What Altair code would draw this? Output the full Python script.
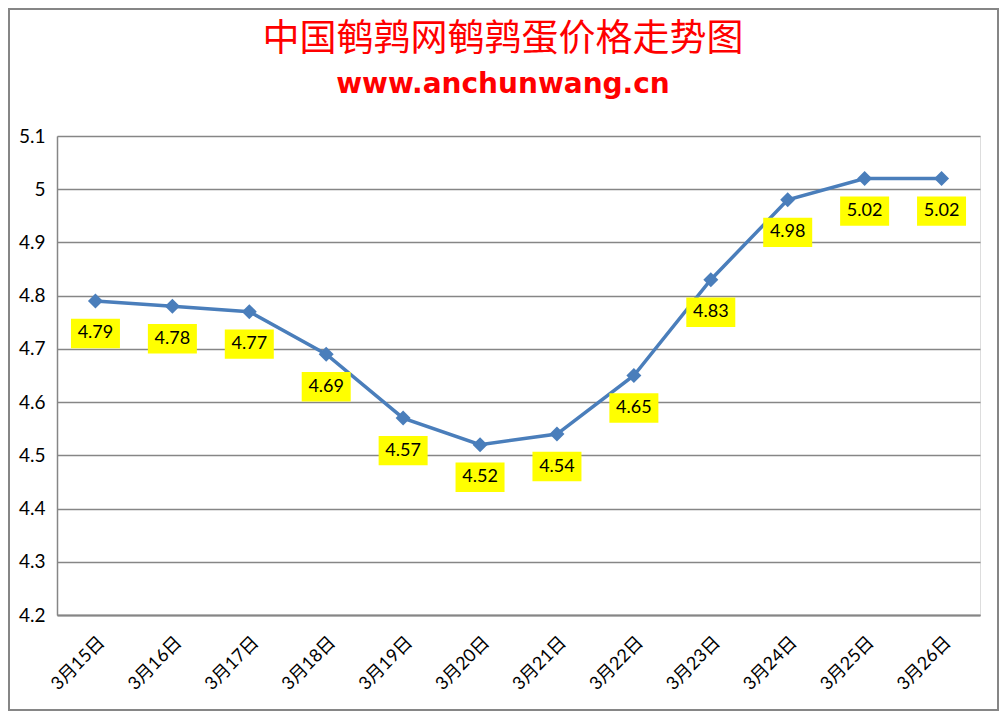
import altair as alt
import pandas as pd

dates = ["3月15日", "3月16日", "3月17日", "3月18日", "3月19日", "3月20日",
         "3月21日", "3月22日", "3月23日", "3月24日", "3月25日", "3月26日"]
prices = [4.79, 4.78, 4.77, 4.69, 4.57, 4.52, 4.54, 4.65, 4.83, 4.98, 5.02, 5.02]
y_ticks = [4.2, 4.3, 4.4, 4.5, 4.6, 4.7, 4.8, 4.9, 5.0, 5.1]
title_text = "中国鹌鹑网鹌鹑蛋价格走势图"
subtitle_text = "www.anchunwang.cn"

df = pd.DataFrame({"date": dates, "price": prices})

W, H = 923, 479
PL, PT, PR, PB = 49, 128, 19, 96
GRAY = "#868686"

x = alt.X("date:N", sort=dates, title=None,
          scale=alt.Scale(type="point", padding=0.5),
          axis=alt.Axis(labelAngle=315, labelFontSize=18, labelFont="Lato, Noto Sans CJK SC",
                        labelColor="black", ticks=False, labelPadding=18,
                        domainColor=GRAY, domainWidth=2, grid=False))
y = alt.Y("price:Q", title=None,
          scale=alt.Scale(domain=[4.2, 5.1], nice=False, zero=False),
          axis=alt.Axis(values=y_ticks, format="~g", labelFontSize=19, labelFont="Lato",
                        labelColor="black", ticks=False, labelPadding=12,
                        gridColor=GRAY, gridWidth=1.5, domainColor=GRAY, domainWidth=1.5))

base = alt.Chart(df)
one = alt.Chart(pd.DataFrame({"t": [title_text], "s": [subtitle_text]}))

border = one.mark_rect(fill=None, stroke=GRAY, strokeWidth=2).encode(
    x=alt.value(-PL + 1), x2=alt.value(W + PR - 1),
    y=alt.value(-PT + 1), y2=alt.value(H + PB - 1))

title = one.mark_text(font="Noto Sans CJK SC", fontSize=37, color="#FF0000",
                      baseline="middle", align="center").encode(
    x=alt.value(446), y=alt.value(-96), text="t:N")
subtitle = one.mark_text(font="DejaVu Sans", fontSize=28, fontWeight="bold", color="#FF0000",
                         baseline="middle", align="center").encode(
    x=alt.value(446), y=alt.value(-51), text="s:N")

line = base.mark_line(color="#4A7EBB", strokeWidth=3.5).encode(x=x, y=y)
pts = base.mark_point(shape="diamond", filled=True, size=225, color="#4A7EBB", opacity=1).encode(x=x, y=y)
boxes = base.mark_point(shape="M-1,-0.6L1,-0.6L1,0.6L-1,0.6Z", filled=True, size=2401,
                        color="#FFFF00", opacity=1, yOffset=32.5).encode(x=x, y=y)
labels = base.mark_text(fontSize=18, font="Lato", color="black", baseline="middle",
                        yOffset=32.5).encode(x=x, y=y, text=alt.Text("price:Q", format=".2f"))

chart = alt.layer(border, title, subtitle, line, pts, boxes, labels).properties(
    width=W, height=H,
    padding={"left": PL, "top": PT, "right": PR, "bottom": PB},
    autosize=alt.AutoSizeParams(type="none"),
).configure_view(stroke=None).configure(background="white")

chart.save("out.html", embed_options={"renderer": "svg", "actions": False})
